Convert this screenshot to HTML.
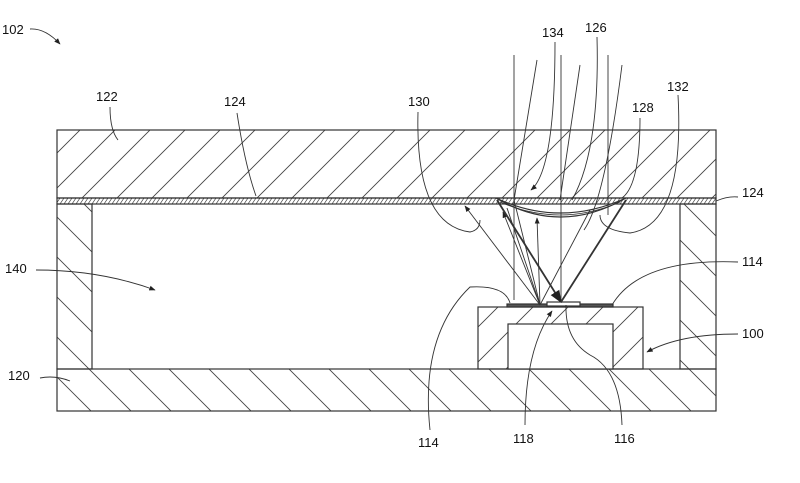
<!DOCTYPE html>
<html><head><meta charset="utf-8"><style>body{margin:0;background:#fff}svg{display:block}text{font-family:"Liberation Sans",sans-serif;font-size:13px;fill:#111}</style></head>
<body>
<svg width="800" height="483" viewBox="0 0 800 483" xmlns="http://www.w3.org/2000/svg">
<defs>
<pattern id="h1" patternUnits="userSpaceOnUse" width="35" height="35"><path d="M-5 40 L40 -5 M-40 40 L5 -5 M30 40 L75 -5" stroke="#444" stroke-width="0.9"/></pattern>
<pattern id="h2" patternUnits="userSpaceOnUse" width="40" height="40"><path d="M-5 -5 L45 45 M-45 -5 L5 45 M35 -5 L85 45" stroke="#444" stroke-width="0.9"/></pattern>
<pattern id="h3" patternUnits="userSpaceOnUse" width="4" height="6"><path d="M0 6 L4 0" stroke="#444" stroke-width="0.7"/></pattern>
<marker id="a" viewBox="0 0 10 10" refX="9" refY="5" markerWidth="7" markerHeight="7" orient="auto"><path d="M0 1 L10 5 L0 9 Z" fill="#222"/></marker>
</defs>
<g stroke="#333" stroke-width="1.2">
<rect x="57" y="130" width="659" height="68" fill="url(#h1)"/>
<rect x="57" y="198" width="659" height="6" fill="url(#h3)"/>
<rect x="57" y="204" width="35" height="165" fill="url(#h2)"/>
<rect x="680" y="204" width="36" height="165" fill="url(#h2)"/>
<rect x="57" y="369" width="659" height="42" fill="url(#h2)"/>
<rect x="478" y="307" width="165" height="62" fill="url(#h1)"/>
<rect x="508" y="324" width="105" height="45" fill="#fff"/>
<path d="M496 198 Q560 236 626 198 Q560 228 496 198 Z" fill="#fff"/>
<path d="M500 202 Q560 228 620 202" fill="none" stroke-width="0.8"/>
<rect x="507" y="304" width="106" height="3" fill="#555"/>
<rect x="547" y="302" width="33" height="4" fill="#fff"/>
</g>
<g stroke="#333" fill="none" stroke-width="0.9">
<line x1="514" y1="55" x2="514" y2="300"/><line x1="561" y1="55" x2="561" y2="300"/><line x1="608" y1="55" x2="608" y2="215"/>
<path d="M537 60 L514 200 L540 305"/><path d="M580 65 L560 200"/><path d="M622 65 Q605 200 584 230"/>
<path d="M540 305 L465 206" marker-end="url(#a)"/>
<path d="M540 305 L503 212" marker-end="url(#a)"/>
<path d="M540 305 L507 208" />
<path d="M540 305 L537 218" marker-end="url(#a)"/>
<path d="M497 200 L561 302" stroke-width="1.8" marker-end="url(#a)"/>
<path d="M626 200 L561 302" stroke-width="1.8"/>
<path d="M540 305 L590 210"/>
<path d="M555 42 Q555 170 531 190" marker-end="url(#a)"/>
<path d="M597 37 Q600 150 572 200"/>
<path d="M640 118 Q640 185 622 198"/>
<path d="M678 95 Q685 225 630 233 Q600 230 600 215"/>
<path d="M418 112 Q415 225 470 232 Q480 230 480 220"/>
<path d="M110 107 Q110 130 118 140"/>
<path d="M237 113 Q245 165 256 196"/>
<path d="M738 197 Q728 196 716 201"/>
<path d="M30 29 Q45 28 60 44" marker-end="url(#a)"/>
<path d="M36 270 Q100 270 155 290" marker-end="url(#a)"/>
<path d="M40 378 Q55 375 70 381"/>
<path d="M738 262 Q640 258 612 305"/>
<path d="M738 334 Q680 334 647 352" marker-end="url(#a)"/>
<path d="M430 430 Q420 335 470 287 Q505 285 510 303"/>
<path d="M525 425 Q525 350 552 311" marker-end="url(#a)"/>
<path d="M622 425 Q620 370 590 355 Q565 340 566 305"/>
</g>
<text x="2" y="34">102</text><text x="96" y="101">122</text><text x="224" y="106">124</text>
<text x="408" y="106">130</text><text x="542" y="37">134</text><text x="585" y="32">126</text>
<text x="667" y="91">132</text><text x="632" y="112">128</text><text x="742" y="197">124</text>
<text x="5" y="273">140</text><text x="742" y="266">114</text><text x="742" y="338">100</text>
<text x="8" y="380">120</text><text x="418" y="447">114</text><text x="513" y="443">118</text><text x="614" y="443">116</text>
</svg>
</body></html>
